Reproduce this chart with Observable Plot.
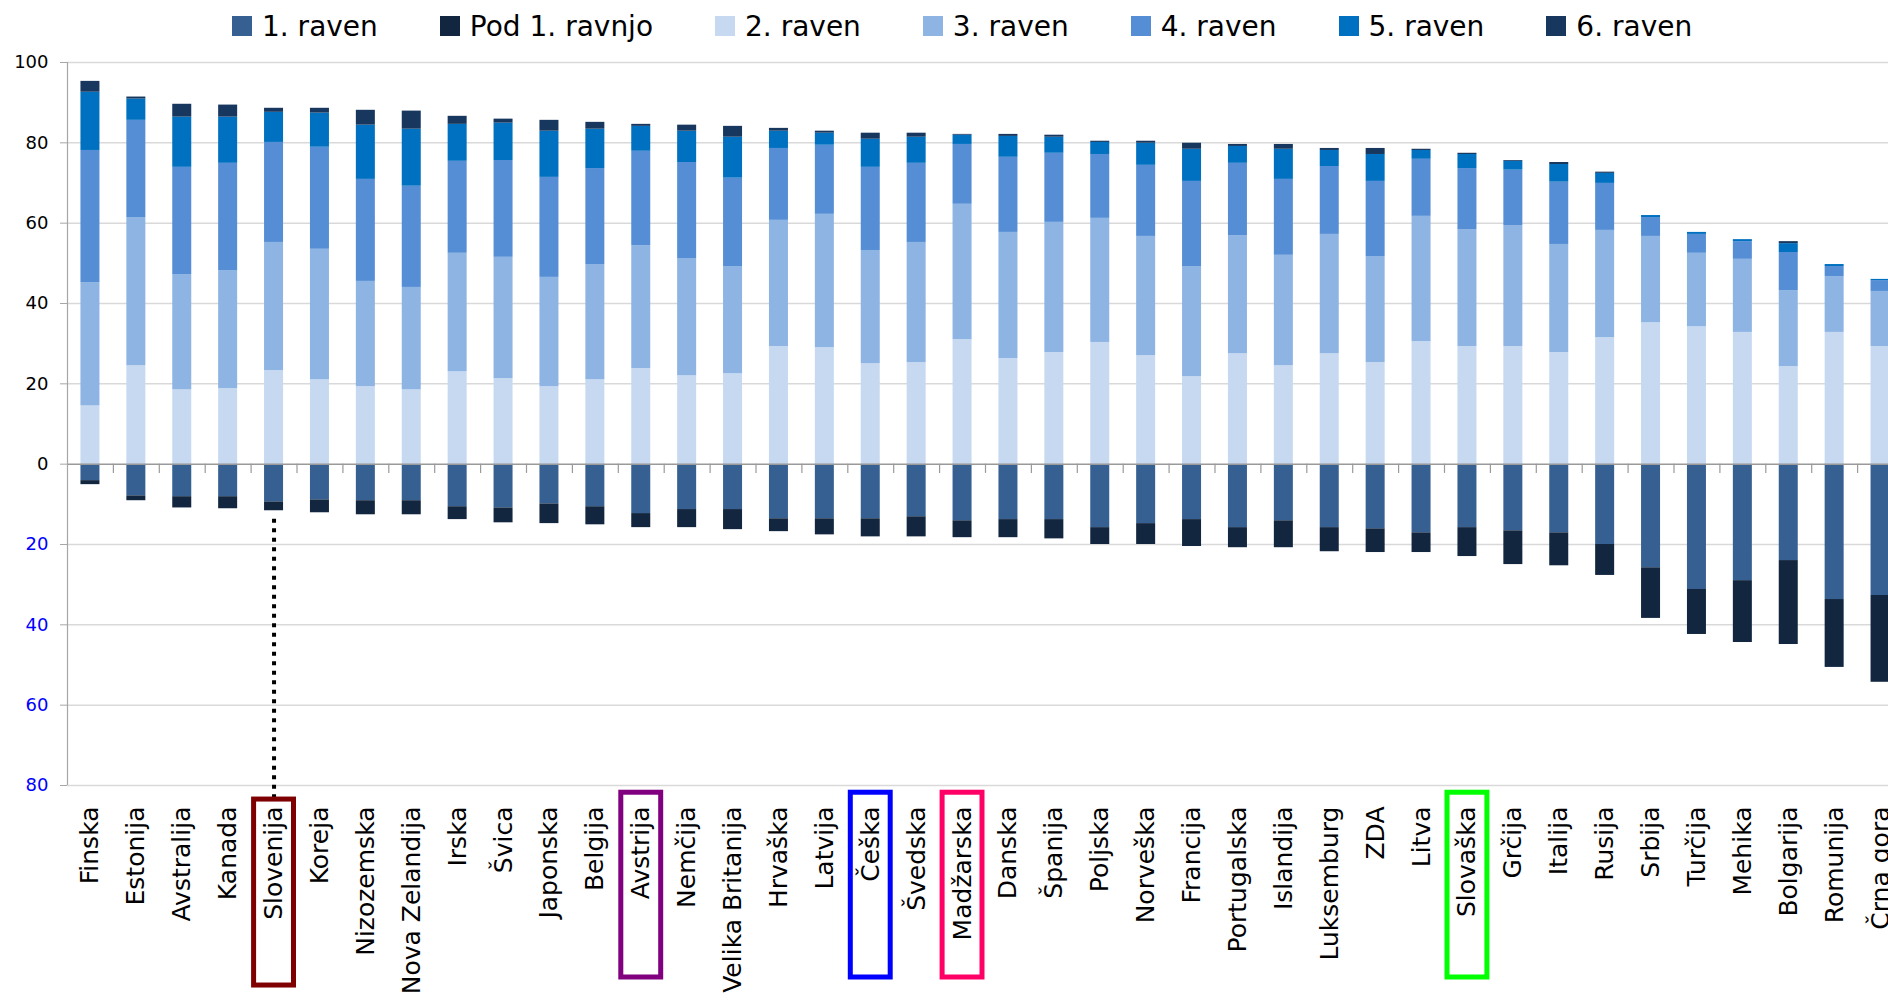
<!DOCTYPE html>
<html><head><meta charset="utf-8">
<script src="https://cdn.jsdelivr.net/npm/d3@7"></script>
<script src="https://cdn.jsdelivr.net/npm/@observablehq/plot@0.6"></script>
<style>
html,body{margin:0;padding:0;background:#fff;overflow:hidden;width:1888px;height:1005px}
#legend{display:flex;align-items:center;height:45px;box-sizing:border-box;padding-left:232px;padding-top:7px;font-family:"DejaVu Sans";font-size:28px;color:#000;gap:62px;white-space:nowrap}
.item{display:flex;align-items:center}
.sw{width:20px;height:20px;margin-right:10px;flex:none}
#chart{width:1903px}
#chart svg{display:block;max-width:none !important}
</style></head><body>
<div id="legend"></div>
<div id="chart"></div>
<script>
const categories = ["Finska","Estonija","Avstralija","Kanada","Slovenija","Koreja","Nizozemska","Nova Zelandija","Irska","Švica","Japonska","Belgija","Avstrija","Nemčija","Velika Britanija","Hrvaška","Latvija","Češka","Švedska","Madžarska","Danska","Španija","Poljska","Norveška","Francija","Portugalska","Islandija","Luksemburg","ZDA","Litva","Slovaška","Grčija","Italija","Rusija","Srbija","Turčija","Mehika","Bolgarija","Romunija","Črna gora"];

const levelNames = ["1. raven","Pod 1. ravnjo","2. raven","3. raven","4. raven","5. raven","6. raven"];
const levelColors = ["#366092","#12263f","#c6d9f1","#8eb4e3","#558ed5","#0070c0","#17375e"];

// below zero (drawn downward)
const level1 = [4.1,7.9,8.1,8.1,9.4,8.9,9.1,9.1,10.6,10.9,9.9,10.6,12.3,11.3,11.3,13.6,13.6,13.6,13.1,14.1,13.8,13.8,15.8,14.8,13.8,15.8,14.1,15.8,16.1,17.1,15.8,16.6,17.1,20.0,25.8,31.2,29.0,24.0,33.7,32.7];
const below1 = [1.0,1.2,2.8,3.0,2.2,3.2,3.5,3.5,3.2,3.7,4.9,4.5,3.5,4.5,5.0,3.2,4.0,4.5,5.0,4.2,4.5,4.8,4.2,5.2,6.7,5.0,6.7,6.0,5.9,4.9,7.2,8.4,8.2,7.7,12.6,11.2,15.4,20.9,16.9,21.6];
// above zero
const level2 = [14.5,24.5,18.5,18.8,23.3,21.0,19.3,18.5,23.0,21.3,19.3,21.0,23.8,22.0,22.5,29.3,29.0,25.0,25.3,31.0,26.3,27.8,30.3,27.0,21.8,27.5,24.5,27.5,25.3,30.5,29.3,29.3,27.8,31.5,35.2,34.2,32.8,24.3,32.8,29.3];
const level3 = [30.7,36.9,28.7,29.4,31.9,32.5,26.2,25.5,29.5,30.2,27.2,28.7,30.6,29.2,26.7,31.4,33.2,28.2,29.9,33.7,31.4,32.4,30.9,29.7,27.4,29.4,27.5,29.7,26.4,31.2,29.1,30.1,26.9,26.7,21.5,18.3,18.2,18.9,13.9,13.7];
const level4 = [32.9,24.2,26.7,26.7,24.9,25.4,25.4,25.2,22.9,24.1,24.9,23.9,23.5,23.9,22.0,17.9,17.2,20.7,19.7,14.9,18.7,17.2,15.9,17.7,21.2,18.0,18.9,16.9,18.7,14.2,15.2,13.8,15.5,11.7,4.7,4.7,4.4,9.5,2.5,2.7];
const level5 = [14.5,5.3,12.5,11.5,7.5,8.5,13.5,14.2,9.2,9.3,11.5,9.8,6.2,7.8,10.2,4.3,3.0,7.0,6.5,2.3,5.2,4.0,3.0,5.5,8.0,4.2,7.5,4.0,6.7,2.2,3.5,2.2,4.4,2.5,0.5,0.5,0.5,2.2,0.5,0.3];
const level6 = [2.7,0.5,3.2,3.0,1.0,1.2,3.7,4.5,2.0,1.0,2.7,1.7,0.5,1.5,2.7,0.7,0.5,1.5,1.0,0.2,0.5,0.5,0.3,0.5,1.5,0.5,1.2,0.5,1.5,0.3,0.3,0.2,0.5,0.3,0,0,0,0.5,0,0];

const posTicks = [0,20,40,60,80,100];
const negTicks = [-20,-40,-60,-80];

// highlighted country labels (boxes in label area, in y-units below the axis)
const highlights = [
  {country:"Slovenija", color:"#7f0000", top:-83.5, bottom:-129.8},
  {country:"Avstrija",  color:"#800080", top:-81.8, bottom:-127.8},
  {country:"Češka",     color:"#0000ff", top:-81.8, bottom:-127.8},
  {country:"Madžarska", color:"#ff0066", top:-81.8, bottom:-127.8},
  {country:"Slovaška",  color:"#00ff00", top:-81.8, bottom:-127.8}
];
const connector = [{country:"Slovenija", from:-13.7, to:-83.5}];

// legend
const lg = document.getElementById("legend");
levelNames.forEach((n,i)=>{
  const it = document.createElement("div"); it.className="item";
  const sw = document.createElement("div"); sw.className="sw"; sw.style.background=levelColors[i];
  const tx = document.createElement("span"); tx.textContent=n;
  it.appendChild(sw); it.appendChild(tx); lg.appendChild(it);
});

const series = [
  [levelNames[0], level1, -1],
  [levelNames[1], below1, -1],
  [levelNames[2], level2, 1],
  [levelNames[3], level3, 1],
  [levelNames[4], level4, 1],
  [levelNames[5], level5, 1],
  [levelNames[6], level6, 1]
];
const rows = [];
categories.forEach((c,i)=>{
  series.forEach(([name, arr, sign])=>{
    rows.push({country:c, level:name, value:sign*arr[i]});
  });
});

const W = 1903, ML = 67, MT = 17, MB = 220, H = 960;
const step = (W - ML) / categories.length;
const barInset = (step - 19) / 2;

const chart = Plot.plot({
  width: W, height: H,
  marginLeft: ML, marginRight: 0, marginTop: MT, marginBottom: MB,
  style: {fontFamily: "DejaVu Sans", fontSize: "18px", background: "#fff", color: "#000", maxWidth: "none"},
  x: {domain: categories, padding: 0, label: null},
  y: {domain: [-80, 100], label: null},
  color: {domain: levelNames, range: levelColors},
  marks: [
    Plot.gridY(posTicks.slice(1).concat(negTicks), {stroke: "#d9d9d9", strokeOpacity: 1, strokeWidth: 1.5}),
    Plot.barY(rows, {x: "country", y: "value", fill: "level", insetLeft: barInset, insetRight: barInset}),
    Plot.ruleY([0], {stroke: "#9a9a9a", strokeWidth: 1.5}),
    Plot.ruleX(categories.slice(1), {x: d => d, dx: -step/2, y1: 0, y2: -2.3, stroke: "#9a9a9a", strokeWidth: 1.2}),
    Plot.ruleX([categories[0]], {x: d => d, dx: -step/2, y1: -80, y2: 100, stroke: "#a6a6a6", strokeWidth: 1.2}),
    Plot.axisY({ticks: posTicks, tickSize: 7, tickPadding: 12, stroke: "#a6a6a6", fill: "#000", tickFormat: d => Math.abs(d), fontSize: 18, label: null}),
    Plot.axisY({ticks: negTicks, tickSize: 7, tickPadding: 12, stroke: "#a6a6a6", fill: "#0000ff", tickFormat: d => Math.abs(d), fontSize: 18, label: null}),
    Plot.axisX({tickRotate: -90, tickSize: 0, tickPadding: 21, fontSize: 25, fill: "#000", label: null}),
    Plot.ruleX(connector, {x: "country", y1: "from", y2: "to", stroke: "#000", strokeWidth: 4, strokeDasharray: "4,5.5"}),
    ...highlights.map(h => Plot.barY([h], {x: "country", y1: "top", y2: "bottom", fill: "none", stroke: h.color, strokeWidth: 5, insetLeft: 3, insetRight: 3}))
  ]
});
document.getElementById("chart").appendChild(chart);
</script>
</body></html>
